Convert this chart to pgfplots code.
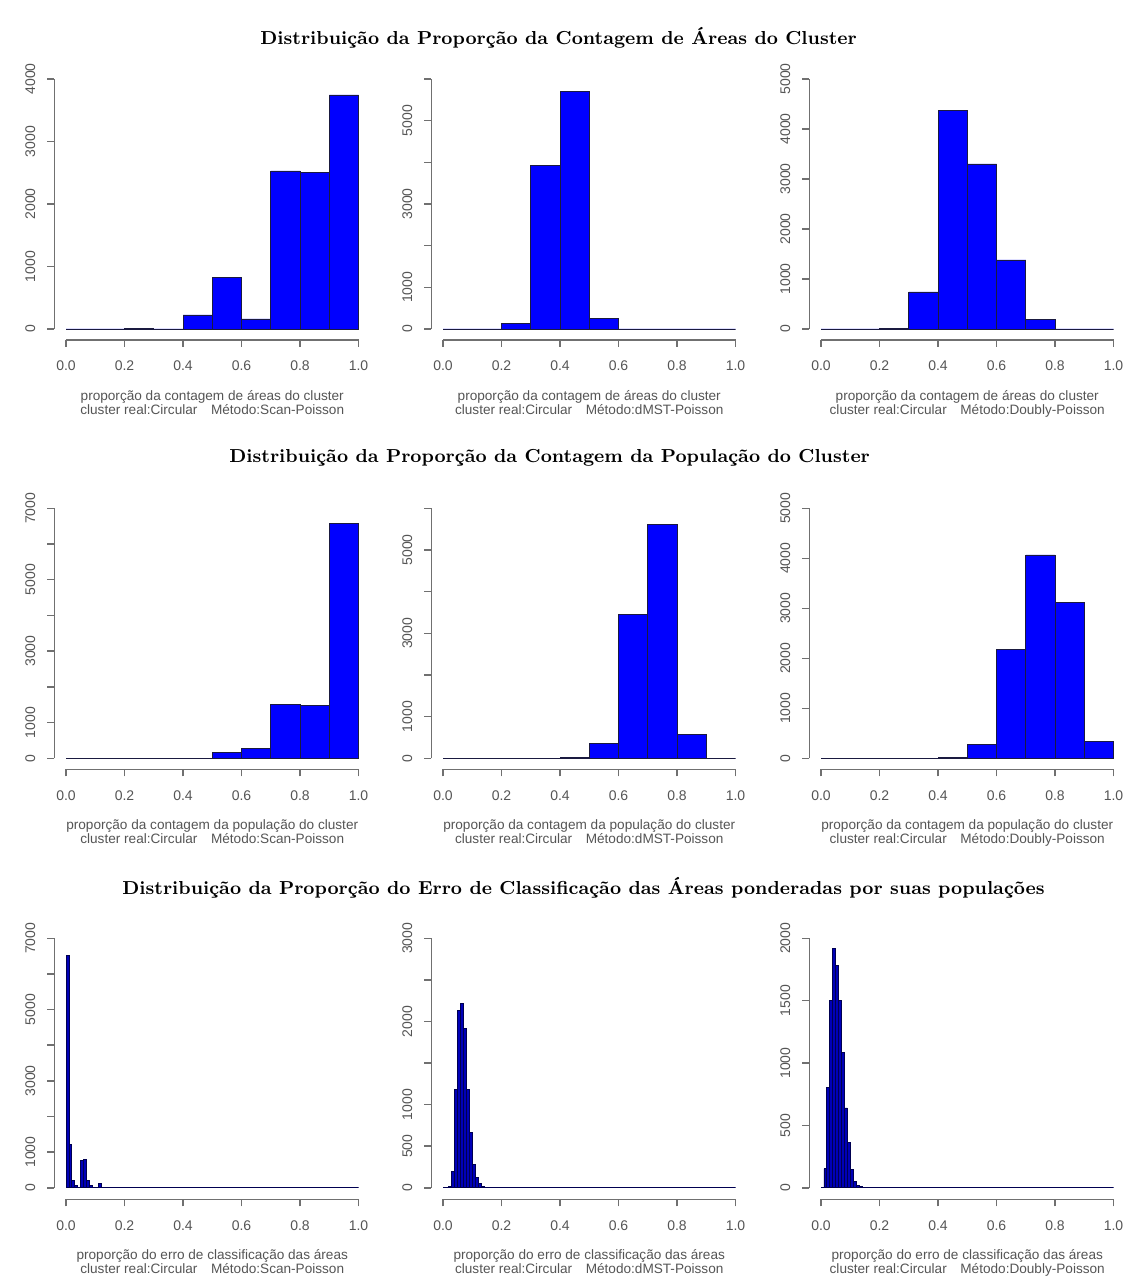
\documentclass[border=0pt]{standalone}
\usepackage{fontspec}
\newfontfamily\rsans{Liberation Sans}
\usepackage{pgfplots}
\pgfplotsset{compat=1.18}
\definecolor{axgray}{HTML}{707070}
\definecolor{txtgray}{HTML}{555555}
\definecolor{barblue}{HTML}{0000FF}
\definecolor{bardraw}{HTML}{1A1A40}
\definecolor{bar3}{HTML}{0000B8}
\definecolor{bar3draw}{HTML}{000050}
\tikzset{axisln/.style={axgray, line width=0.75pt}}
\newcommand{\raxes}[2]{\draw[axisln] (axis cs:0,#1) -- (axis cs:1,#1); \draw[axisln] (axis cs:-0.04,0) -- (axis cs:-0.04,#2);}
\pgfplotsset{
 rhist/.style={
  scale only axis, width=157.95pt, height=130.5pt,
  xmin=-0.04, xmax=1.04, clip=false,
  axis line style={draw=none},
  xtick pos=left, ytick pos=left,
  tick align=outside,
  major tick length=3.5pt,
  tick style={axgray, line width=0.75pt},
  xtick={0,0.2,0.4,0.6,0.8,1},
  xticklabels={0.0,0.2,0.4,0.6,0.8,1.0},
  ticklabel style={font=\rsans\fontsize{7}{8}\selectfont, text=txtgray},
  xticklabel style={anchor=north, yshift=-3.5pt},
  yticklabel style={rotate=90, anchor=south, yshift=2.5pt},
  xlabel style={font=\rsans\fontsize{6.8}{7}\selectfont, text=txtgray, align=center, at={(axis description cs:0.5,0)}, anchor=north, yshift=-25pt, inner sep=0pt},
 },
 rbar/.style={ybar interval, fill=barblue, draw=bardraw, line width=0.4pt},
 rbar3/.style={ybar interval, fill=bar3, draw=bar3draw, line width=0.4pt},
}
\begin{document}
\begin{tikzpicture}
\path[fill=white, use as bounding box] (0,0) rectangle (565pt,639.5pt);
% titles
\node[anchor=west, inner sep=0pt, font=\bfseries\fontsize{9.4}{11}\selectfont] at (130pt,620.5pt) {Distribuição da Proporção da Contagem de Áreas do Cluster};
\node[anchor=west, inner sep=0pt, font=\bfseries\fontsize{9.4}{11}\selectfont] at (114.5pt,410.5pt) {Distribuição da Proporção da Contagem da População do Cluster};
\node[anchor=west, inner sep=0pt, font=\bfseries\fontsize{9.4}{11}\selectfont] at (61pt,195.5pt) {Distribuição da Proporção do Erro de Classificação das Áreas ponderadas por suas populações};

% ---------- Row 1 ----------
\begin{axis}[rhist, at={(27.15pt,469.5pt)}, anchor=south west,
  ymin=-176, ymax=4000, ytick={0,1000,2000,3000,4000}, yticklabels={0,1000,2000,3000,4000},
  xlabel={proporção da contagem de áreas do cluster\\cluster real:Circular\quad Método:Scan-Poisson}]
\addplot[rbar] coordinates {(0,0) (0.1,0) (0.2,15) (0.3,0) (0.4,224) (0.5,827) (0.6,160) (0.7,2528) (0.8,2501) (0.9,3744) (1.0,0)};
\raxes{-176}{4000}
\end{axis}
\begin{axis}[rhist, at={(215.65pt,469.5pt)}, anchor=south west,
  ymin=-264, ymax=6000, ytick={0,1000,2000,3000,4000,5000,6000}, yticklabels={0,1000,,3000,,5000,},
  xlabel={proporção da contagem de áreas do cluster\\cluster real:Circular\quad Método:dMST-Poisson}]
\addplot[rbar] coordinates {(0,0) (0.1,0) (0.2,130) (0.3,3920) (0.4,5700) (0.5,250) (0.6,0) (0.7,0) (0.8,0) (0.9,0) (1.0,0)};
\raxes{-264}{6000}
\end{axis}
\begin{axis}[rhist, at={(404.65pt,469.5pt)}, anchor=south west,
  ymin=-220, ymax=5000, ytick={0,1000,2000,3000,4000,5000}, yticklabels={0,1000,2000,3000,4000,5000},
  xlabel={proporção da contagem de áreas do cluster\\cluster real:Circular\quad Método:Doubly-Poisson}]
\addplot[rbar] coordinates {(0,0) (0.1,0) (0.2,15) (0.3,740) (0.4,4370) (0.5,3300) (0.6,1380) (0.7,195) (0.8,0) (0.9,0) (1.0,0)};
\raxes{-220}{5000}
\end{axis}

% ---------- Row 2 ----------
\begin{axis}[rhist, at={(27.15pt,254.85pt)}, anchor=south west,
  ymin=-308, ymax=7000, ytick={0,1000,2000,3000,4000,5000,6000,7000}, yticklabels={0,1000,,3000,,5000,,7000},
  xlabel={proporção da contagem da população do cluster\\cluster real:Circular\quad Método:Scan-Poisson}]
\addplot[rbar] coordinates {(0,0) (0.1,0) (0.2,0) (0.3,0) (0.4,0) (0.5,170) (0.6,285) (0.7,1500) (0.8,1480) (0.9,6565) (1.0,0)};
\raxes{-308}{7000}
\end{axis}
\begin{axis}[rhist, at={(215.65pt,254.85pt)}, anchor=south west,
  ymin=-264, ymax=6000, ytick={0,1000,2000,3000,4000,5000,6000}, yticklabels={0,1000,,3000,,5000,},
  xlabel={proporção da contagem da população do cluster\\cluster real:Circular\quad Método:dMST-Poisson}]
\addplot[rbar] coordinates {(0,0) (0.1,0) (0.2,0) (0.3,0) (0.4,10) (0.5,350) (0.6,3460) (0.7,5610) (0.8,570) (0.9,0) (1.0,0)};
\raxes{-264}{6000}
\end{axis}
\begin{axis}[rhist, at={(404.65pt,254.85pt)}, anchor=south west,
  ymin=-220, ymax=5000, ytick={0,1000,2000,3000,4000,5000}, yticklabels={0,1000,2000,3000,4000,5000},
  xlabel={proporção da contagem da população do cluster\\cluster real:Circular\quad Método:Doubly-Poisson}]
\addplot[rbar] coordinates {(0,0) (0.1,0) (0.2,0) (0.3,0) (0.4,15) (0.5,280) (0.6,2180) (0.7,4067) (0.8,3120) (0.9,333) (1.0,0)};
\raxes{-220}{5000}
\end{axis}

% ---------- Row 3 ----------
\begin{axis}[rhist, at={(27.15pt,39.85pt)}, anchor=south west,
  ymin=-322, ymax=7000, ytick={0,1000,2000,3000,4000,5000,6000,7000}, yticklabels={0,1000,,3000,,5000,,7000},
  xlabel={proporção do erro de classificação das áreas\\cluster real:Circular\quad Método:Scan-Poisson}]
\addplot[rbar3] coordinates {(0,6530) (0.01,1209) (0.02,215) (0.03,56) (0.04,20) (0.05,760) (0.06,787) (0.07,197) (0.08,56) (0.09,10) (0.10,15) (0.11,131) (0.12,20) (0.13,0) (1.0,0)};
\raxes{-322}{7000}
\end{axis}
\begin{axis}[rhist, at={(215.65pt,39.85pt)}, anchor=south west,
  ymin=-138, ymax=3000, ytick={0,500,1000,1500,2000,2500,3000}, yticklabels={0,500,1000,,2000,,3000},
  xlabel={proporção do erro de classificação das áreas\\cluster real:Circular\quad Método:dMST-Poisson}]
\addplot[rbar3] coordinates {(0,0) (0.02,20) (0.03,200) (0.04,1180) (0.05,2130) (0.06,2220) (0.07,1920) (0.08,1180) (0.09,670) (0.10,280) (0.11,128) (0.12,55) (0.13,20) (0.14,8) (0.15,0) (1.0,0)};
\raxes{-138}{3000}
\end{axis}
\begin{axis}[rhist, at={(404.65pt,39.85pt)}, anchor=south west,
  ymin=-92, ymax=2000, ytick={0,500,1000,1500,2000}, yticklabels={0,500,1000,1500,2000},
  xlabel={proporção do erro de classificação das áreas\\cluster real:Circular\quad Método:Doubly-Poisson}]
\addplot[rbar3] coordinates {(0,0) (0.01,152) (0.02,805) (0.03,1499) (0.04,1920) (0.05,1779) (0.06,1499) (0.07,1085) (0.08,640) (0.09,365) (0.10,150) (0.11,50) (0.12,20) (0.13,8) (0.14,0) (1.0,0)};
\raxes{-92}{2000}
\end{axis}
\end{tikzpicture}
\end{document}
